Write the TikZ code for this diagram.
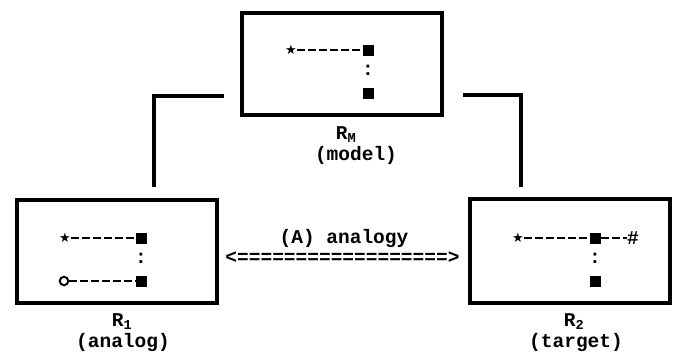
\documentclass[tikz,border=0pt]{standalone}
\usepackage{fontspec}
\setmonofont{Liberation Mono}
\newfontfamily\symfont{DejaVu Sans}
\begin{document}
\begin{tikzpicture}[x=1pt,y=-1pt,
  box/.style={draw, line width=4pt, inner sep=0pt, minimum width=200pt, minimum height=102pt},
  conn/.style={line width=3.5pt},
  sq/.style={fill, minimum size=11pt, inner sep=0pt},
  tw/.style={font=\ttfamily\bfseries\fontsize{19.5}{21}\selectfont, inner sep=0pt},
  starnode/.style={font=\symfont\fontsize{13}{13}\selectfont, inner sep=0pt},
  dashline/.style={line width=2.4pt, dash pattern=on 8pt off 3pt},
  ring/.style={circle, draw, line width=2pt, minimum size=8.5pt, inner sep=0pt}]
\useasboundingbox (0,0) rectangle (674,351);
% boxes
\node[box] (M) at (342,64) {};
\node[box, minimum height=103pt] (A) at (117,251) {};
\node[box, minimum height=104pt] (T) at (570,250.5) {};
% connectors
\coordinate (cl1) at (224,96); \coordinate (cl2) at (154,187);
\coordinate (cr1) at (463,95); \coordinate (cr2) at (521,187);
\draw[conn] (cl1) -| (cl2);
\draw[conn] (cr1) -| (cr2);
% model contents
\node[starnode] (ms) at (291,50) {★};
\node[sq] (mq1) at (368,50) {};
\node[tw] (mc) at (368,70) {:};
\node[sq] (mq2) at (368,93) {};
\draw[dashline] (ms.east) -- (mq1.west);
% analog contents
\node[starnode] (as) at (65,238) {★};
\node[sq] (aq1) at (141,238) {};
\node[tw] (ac) at (141,258) {:};
\node[ring] (ao) at (64,281) {};
\node[sq] (aq2) at (141,281) {};
\draw[dashline] (as.east) -- (aq1.west);
\draw[dashline] (ao.east) -- (aq2.west);
% target contents
\node[starnode] (ts) at (518,238) {★};
\node[sq] (tq1) at (595,238) {};
\node[tw] (th) at (633,238) {\#};
\node[tw] (tc) at (595,258) {:};
\node[sq] (tq2) at (595,281) {};
\draw[dashline] (ts.east) -- (tq1.west);
\draw[dashline] (tq1.east) -- (th.west);
% labels
\node[tw] (lm) at (346,135) {R\textsubscript{M}};
\node[tw] (lm2) at (356,155) {(model)};
\node[tw] (la) at (122,322) {R\textsubscript{1}};
\node[tw] (la2) at (123,342) {(analog)};
\node[tw] (lt) at (574,322) {R\textsubscript{2}};
\node[tw] (lt2) at (576,342) {(target)};
\node[tw] (an) at (344,238) {(A) analogy};
\node[tw] (arr) at (342.5,258) {<==================>};
\end{tikzpicture}
\end{document}
